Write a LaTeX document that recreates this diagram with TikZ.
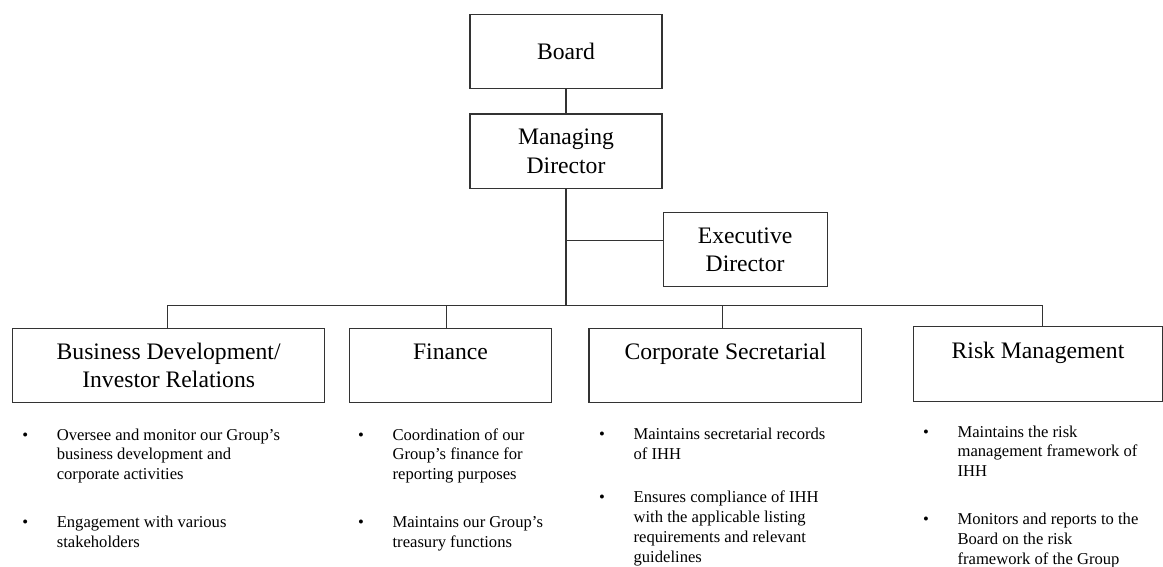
\documentclass[tikz,border=0pt]{standalone}
\usepackage{fontspec}
\setmainfont{Liberation Serif}
\usetikzlibrary{positioning, calc}

\begin{document}
\begin{tikzpicture}[
    unit/.style={draw=black!80, line width=0.8pt, align=center,
        inner sep=0pt, minimum height=1.97cm,
        font=\fontsize{17.8pt}{21.2pt}\selectfont},
    oneline/.style={text height=12pt, text depth=20.6pt},
    duty/.style={anchor=base west, inner sep=0pt,
        font=\fontsize{12.5pt}{15pt}\selectfont},
    link/.style={draw=black!80, line width=0.8pt}
  ]
  \useasboundingbox (0,0) rectangle (30.77,-15.0);

  \node[unit, minimum width=5.08cm, minimum height=1.95cm] (board)
    at (14.975,-1.363) {Board};
  \node[unit, minimum width=5.08cm, below=0.65cm of board] (md)
    {Managing\\Director};
  \node[unit, minimum width=4.34cm, below right=0.6cm and 0cm of md] (ed)
    {Executive\\Director};

  \node[unit, minimum width=8.27cm] (bd) at (4.462,-9.674)
    {Business Development/\\Investor Relations};
  \node[unit, oneline, minimum width=5.355cm] (fin) at (11.919,-9.674)
    {Finance};
  \node[unit, oneline, minimum width=7.215cm] (cs) at (19.191,-9.674)
    {Corporate Secretarial};
  \node[unit, oneline, minimum width=6.578cm] (rm) at (27.463,-9.631)
    {Risk Management};

  \coordinate (bus) at ($(md.south)+(0,-3.07)$);
  \coordinate (edin) at ($(ed.west)+(0,0.23)$);
  \draw[link] (board) -- (md);
  \draw[link] (md.south) -- (bus);
  \draw[link] (edin) -- (edin -| md.south);
  \draw[link] ([xshift=-0.03cm]bd.north) |- (bus) -| ([xshift=0.11cm]rm.north);
  \draw[link] ([xshift=-0.1cm]fin.north) |- (bus);
  \draw[link] ([xshift=-0.08cm]cs.north) |- (bus);

  \node[duty] (bdlist) at (0.582,-11.642) {\begin{tabular}[t]{@{}p{26pt}@{}l@{}}
    \textbullet & Oversee and monitor our Group’s\\
    & business development and\\
    & corporate activities\\[21pt]
    \textbullet & Engagement with various\\
    & stakeholders
  \end{tabular}};
  \node[duty] (finlist) at (9.467,-11.642) {\begin{tabular}[t]{@{}p{26pt}@{}l@{}}
    \textbullet & Coordination of our\\
    & Group’s finance for\\
    & reporting purposes\\[21pt]
    \textbullet & Maintains our Group’s\\
    & treasury functions
  \end{tabular}};
  \node[duty] (cslist) at (15.843,-11.623) {\begin{tabular}[t]{@{}p{26pt}@{}l@{}}
    \textbullet & Maintains secretarial records\\
    & of IHH\\[17.5pt]
    \textbullet & Ensures compliance of IHH\\
    & with the applicable listing\\
    & requirements and relevant\\
    & guidelines
  \end{tabular}};
  \node[duty] (rmlist) at (24.415,-11.562) {\begin{tabular}[t]{@{}p{26pt}@{}l@{}}
    \textbullet & Maintains the risk\\
    & management framework of\\
    & IHH\\[21pt]
    \textbullet & Monitors and reports to the\\
    & Board on the risk\\
    & framework of the Group
  \end{tabular}};
\end{tikzpicture}
\end{document}
